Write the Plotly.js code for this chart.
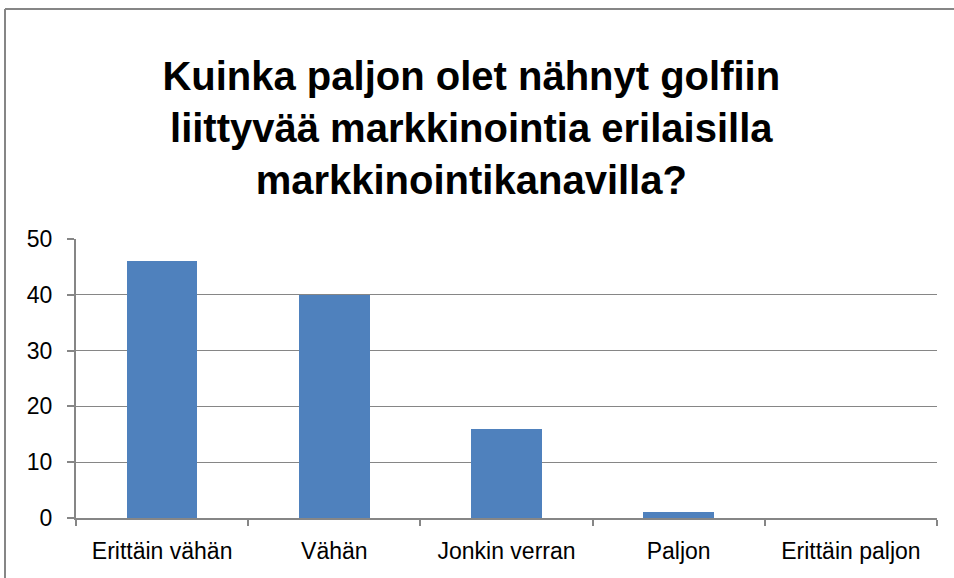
<!DOCTYPE html>
<html>
<head>
<meta charset="utf-8">
<script src="https://cdn.plot.ly/plotly-3.0.1.min.js"></script>
<style>html,body{margin:0;padding:0;background:#fff;}#chart{width:954px;height:578px;}</style>
</head>
<body>
<div id="chart"></div>
<script>
const categories = ["Erittäin vähän", "Vähän", "Jonkin verran", "Paljon", "Erittäin paljon"];
const values = [46, 40, 16, 1, 0];
const yTicks = [0, 10, 20, 30, 40, 50];
const titleText = "Kuinka paljon olet nähnyt golfiin<br>liittyvää markkinointia erilaisilla<br>markkinointikanavilla?";

const W = 954, H = 578, L = 76, R = 17, T = 239, B = 60;
const pw = W - L - R, ph = H - T - B;
const px = x => (x - L) / pw;
const py = y => (H - B - y) / ph;

Plotly.newPlot("chart", [{
  type: "bar",
  x: categories,
  y: values,
  width: 0.41,
  marker: {color: "#4F81BD"},
  hoverinfo: "x+y"
}], {
  width: W, height: H,
  margin: {l: L, r: R, t: T, b: B},
  paper_bgcolor: "#ffffff",
  plot_bgcolor: "#ffffff",
  font: {family: "Liberation Sans, Arial, sans-serif", color: "#000"},
  title: {
    text: titleText,
    font: {size: 40, family: "Liberation Sans, Arial, sans-serif", weight: "bold", color: "#000"},
    x: 0.494, xanchor: "center",
    y: 1 - 90 / 578, yanchor: "top", yref: "container"
  },
  showlegend: false,
  bargap: 0,
  xaxis: {
    type: "category",
    showline: true, linecolor: "#868686", linewidth: 2,
    ticks: "outside", tickson: "boundaries", ticklen: 6, tickcolor: "#868686", tickwidth: 2,
    tickfont: {size: 23, family: "Liberation Sans, Arial, sans-serif", color: "#000"},
    showgrid: false, zeroline: false,
    ticklabelstandoff: 11
  },
  yaxis: {
    range: [0, 50],
    tickvals: yTicks,
    showline: true, linecolor: "#868686", linewidth: 2,
    ticks: "outside", ticklen: 7, tickcolor: "#868686", tickwidth: 2,
    showgrid: true, gridcolor: "#868686", gridwidth: 1,
    zeroline: false,
    tickfont: {size: 23, family: "Liberation Sans, Arial, sans-serif", color: "#000"},
    ticklabelstandoff: 10
  },
  shapes: [
    {type: "line", xref: "paper", yref: "paper",
     x0: px(5), x1: px(W + 10), y0: py(9), y1: py(9),
     line: {color: "#868686", width: 2}, layer: "above"},
    {type: "line", xref: "paper", yref: "paper",
     x0: px(5), x1: px(5), y0: py(9), y1: py(H + 10),
     line: {color: "#868686", width: 2}, layer: "above"}
  ]
}, {displayModeBar: false});
</script>
</body>
</html>
